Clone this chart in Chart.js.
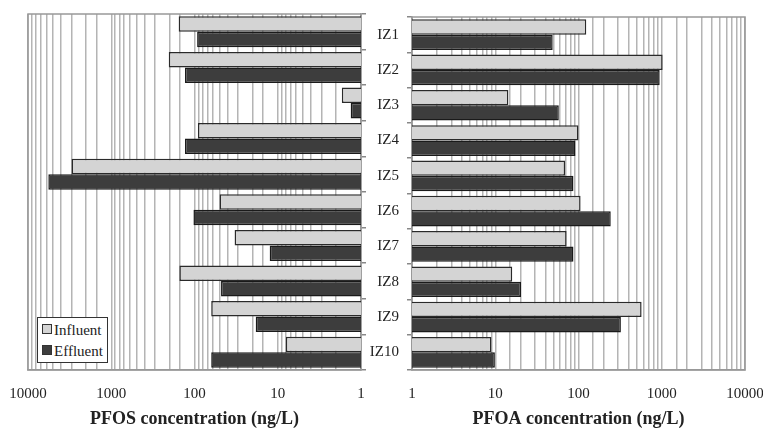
<!DOCTYPE html>
<html>
<head>
<meta charset="utf-8">
<script src="https://cdn.jsdelivr.net/npm/chart.js@4.4.1/dist/chart.umd.min.js"></script>
<style>
  body { margin: 0; background: #fff; }
  #wrap { position: relative; width: 763px; height: 435px; overflow: hidden; }
  #pfos { position: absolute; left: 0; top: 0; }
  #pfoa { position: absolute; left: 340px; top: 0; }
  #legend {
    position: absolute; left: 37px; top: 317px; width: 69px; height: 44px;
    border: 1px solid #333; background: #fff;
    font-family: "Liberation Serif", serif; font-size: 15px; color: #222;
  }
  #legend div { position: absolute; left: 4px; height: 18px; line-height: 18px; }
  #legend span.sw { display: inline-block; width: 8px; height: 8px; border: 1px solid #333; margin-right: 2px; vertical-align: 1px; }
</style>
</head>
<body>
<div id="wrap">
  <canvas id="pfos" width="380" height="435"></canvas>
  <canvas id="pfoa" width="423" height="435"></canvas>
  <div id="legend">
    <div style="top:3px"><span class="sw" style="background:#d4d4d4"></span>Influent</div>
    <div style="top:24px"><span class="sw" style="background:#3d3d3d"></span>Effluent</div>
  </div>
</div>
<script>
const sites = ["IZ1", "IZ2", "IZ3", "IZ4", "IZ5", "IZ6", "IZ7", "IZ8", "IZ9", "IZ10"];
const pfosInfluent = [155, 204, 1.7, 91, 3000, 50, 33, 152, 63, 8];
const pfosEffluent = [93, 130, 1.33, 130, 5700, 103, 12.5, 48, 18.4, 63];
const pfoaInfluent = [124, 1025, 14.4, 100, 69, 106, 72, 16, 573, 9];
const pfoaEffluent = [49, 945, 58, 92, 87, 244, 87, 20.4, 323, 9.9];
const xTickLabels = [1, 10, 100, 1000, 10000];

Chart.defaults.font.family = "'Liberation Serif', 'Times New Roman', serif";
Chart.defaults.font.size = 15;
Chart.defaults.color = "#222";

const frame = {
  id: "frame",
  beforeDatasetsDraw(chart) {
    const { ctx, chartArea: a } = chart;
    ctx.save();
    ctx.strokeStyle = "#999";
    ctx.lineWidth = 1.5;
    ctx.strokeRect(a.left, a.top, a.right - a.left, a.bottom - a.top);
    ctx.restore();
  }
};

function makeChart(id, title, influent, effluent, left) {
  return new Chart(document.getElementById(id), {
    type: "bar",
    data: {
      labels: sites,
      datasets: [
        { label: "Influent", data: influent, backgroundColor: "#d4d4d4", borderColor: "#2a2a2a", borderWidth: 1.5 },
        { label: "Effluent", data: effluent, backgroundColor: "#3d3d3d", borderColor: "#1a1a1a", borderWidth: 1.5 }
      ]
    },
    options: {
      responsive: false,
      animation: false,
      indexAxis: "y",
      layout: { padding: left ? { left: 28, top: 14, right: 0, bottom: 0 } : { left: 0, top: 14, right: 18, bottom: 0 } },
      plugins: { legend: { display: false }, tooltip: { enabled: false } },
      datasets: { bar: { categoryPercentage: 0.87, barPercentage: 1.0 } },
      scales: {
        x: {
          type: "logarithmic",
          reverse: left,
          min: 1,
          max: 10000,
          grid: { color: "#b4b4b4", lineWidth: 1.5, drawTicks: false },
          border: { color: "#999", width: 1.5 },
          ticks: {
            autoSkip: false,
            maxRotation: 0,
            padding: 15,
            callback: (v) => xTickLabels.includes(v) ? String(v) : ""
          },
          title: {
            display: true,
            text: title,
            font: { size: 18, weight: "bold" },
            padding: { top: 5, bottom: 5 }
          },
          afterFit: (s) => { s.height = 65; s.paddingLeft = 0; s.paddingRight = 0; }
        },
        y: {
          position: left ? "right" : "left",
          grid: { drawOnChartArea: false, tickLength: 5, color: "#888", lineWidth: 1.5 },
          border: { color: "#999", width: 1.5 },
          ticks: { display: !left, padding: 8, color: "#222" },
          afterFit: (s) => { s.width = left ? 19 : 72; }
        }
      }
    },
    plugins: [frame]
  });
}

makeChart("pfos", "PFOS concentration (ng/L)", pfosInfluent, pfosEffluent, true);
makeChart("pfoa", "PFOA concentration (ng/L)", pfoaInfluent, pfoaEffluent, false);
</script>
</body>
</html>
